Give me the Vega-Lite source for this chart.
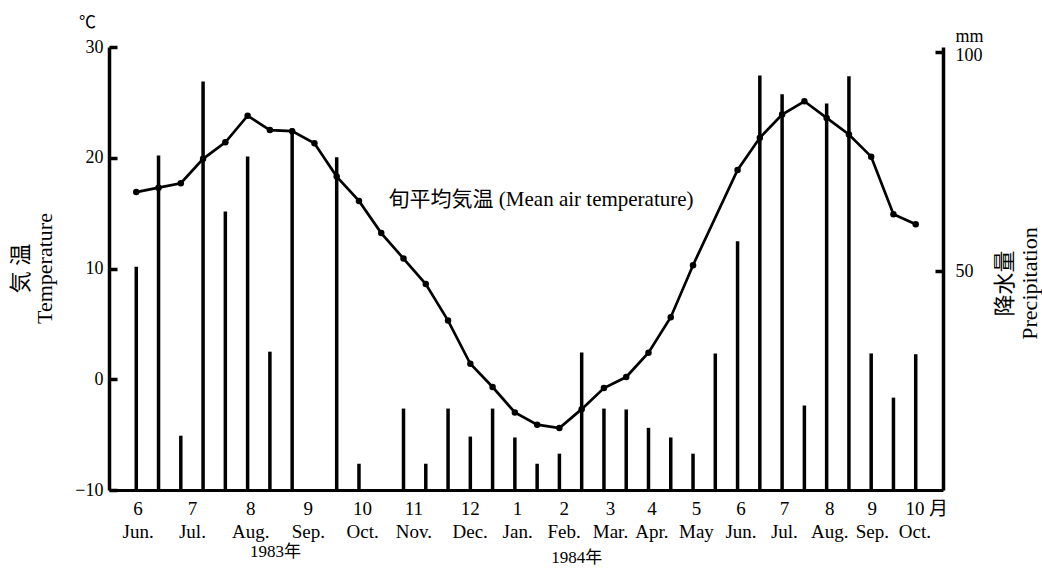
{
  "$schema": "https://vega.github.io/schema/vega-lite/v6.json",
  "width": 834,
  "height": 443,
  "autosize": {"type": "none"},
  "padding": {"left": 109, "top": 47, "right": 99, "bottom": 82},
  "background": "white",
  "config": {
    "view": {"stroke": null},
    "font": "Liberation Serif, Noto Sans CJK JP",
    "axis": {
      "grid": false,
      "labelColor": "black",
      "titleColor": "black",
      "domainColor": "black",
      "tickColor": "black",
      "labelFont": "Liberation Serif, Noto Sans CJK JP",
      "titleFont": "Liberation Serif, Noto Sans CJK JP",
      "titleFontWeight": "normal"
    }
  },
  "title": {
    "text": "℃",
    "anchor": "start",
    "frame": "group",
    "dx": -30,
    "dy": 22,
    "offset": 0,
    "baseline": "bottom",
    "fontSize": 17,
    "fontWeight": "normal",
    "font": "Liberation Serif, Noto Sans CJK JP",
    "color": "black"
  },
  "datasets": {
    "precip": [
      {"i": 1, "mm": 51.0}, {"i": 2, "mm": 76.4}, {"i": 3, "mm": 12.4},
      {"i": 4, "mm": 93.3}, {"i": 5, "mm": 63.6}, {"i": 6, "mm": 76.2},
      {"i": 7, "mm": 31.6}, {"i": 8, "mm": 82.6}, {"i": 9, "mm": 0},
      {"i": 10, "mm": 76.0}, {"i": 11, "mm": 6.0}, {"i": 12, "mm": 0},
      {"i": 13, "mm": 18.6}, {"i": 14, "mm": 6.0}, {"i": 15, "mm": 18.6},
      {"i": 16, "mm": 12.2}, {"i": 17, "mm": 18.6}, {"i": 18, "mm": 12.0},
      {"i": 19, "mm": 6.0}, {"i": 20, "mm": 8.3}, {"i": 21, "mm": 31.4},
      {"i": 22, "mm": 18.6}, {"i": 23, "mm": 18.4}, {"i": 24, "mm": 14.2},
      {"i": 25, "mm": 12.0}, {"i": 26, "mm": 8.3}, {"i": 27, "mm": 31.2},
      {"i": 28, "mm": 56.8}, {"i": 29, "mm": 94.7}, {"i": 30, "mm": 90.4},
      {"i": 31, "mm": 19.3}, {"i": 32, "mm": 88.3}, {"i": 33, "mm": 94.5},
      {"i": 34, "mm": 31.2}, {"i": 35, "mm": 21.1}, {"i": 36, "mm": 31.0}
    ],
    "temp": [
      {"i": 1, "temp": 16.9}, {"i": 2, "temp": 17.3}, {"i": 3, "temp": 17.7},
      {"i": 4, "temp": 19.9}, {"i": 5, "temp": 21.4}, {"i": 6, "temp": 23.8},
      {"i": 7, "temp": 22.5}, {"i": 8, "temp": 22.4}, {"i": 9, "temp": 21.3},
      {"i": 10, "temp": 18.3}, {"i": 11, "temp": 16.1}, {"i": 12, "temp": 13.2},
      {"i": 13, "temp": 10.9}, {"i": 14, "temp": 8.6}, {"i": 15, "temp": 5.3},
      {"i": 16, "temp": 1.4}, {"i": 17, "temp": -0.7}, {"i": 18, "temp": -3.0},
      {"i": 19, "temp": -4.1}, {"i": 20, "temp": -4.4}, {"i": 21, "temp": -2.7},
      {"i": 22, "temp": -0.8}, {"i": 23, "temp": 0.2}, {"i": 24, "temp": 2.4},
      {"i": 25, "temp": 5.6}, {"i": 26, "temp": 10.3},
      {"i": 28, "temp": 18.9}, {"i": 29, "temp": 21.8}, {"i": 30, "temp": 23.9},
      {"i": 31, "temp": 25.1}, {"i": 32, "temp": 23.6}, {"i": 33, "temp": 22.1},
      {"i": 34, "temp": 20.1}, {"i": 35, "temp": 14.9}, {"i": 36, "temp": 14.0}
    ],
    "note": [
      {"i": 12.33, "temp": 16.15, "label": "旬平均気温 (Mean air temperature)"}
    ]
  },
  "layer": [
    {
      "data": {"name": "precip"},
      "mark": {"type": "bar", "width": 3.5, "color": "black"},
      "encoding": {
        "x": {
          "field": "i",
          "type": "quantitative",
          "scale": {"domain": [0, 37], "nice": false, "zero": false},
          "axis": {
            "orient": "bottom",
            "title": null,
            "values": [1.06, 3.5, 6.12, 8.7, 11.14, 13.44, 15.97, 18.1, 20.19, 22.27, 24.13, 26.13, 28.13, 30.08, 32.12, 34.03, 35.94, 37],
            "labelExpr": "[['6','Jun.'],['7','Jul.'],['8','Aug.'],['9','Sep.'],['10','Oct.'],['11','Nov.'],['12','Dec.'],['1','Jan.'],['2','Feb.'],['3','Mar.'],['4','Apr.'],['5','May'],['6','Jun.'],['7','Jul.'],['8','Aug.'],['9','Sep.'],['10','Oct.'],['月','']][indexof([1.06, 3.5, 6.12, 8.7, 11.14, 13.44, 15.97, 18.1, 20.19, 22.27, 24.13, 26.13, 28.13, 30.08, 32.12, 34.03, 35.94, 37], datum.value)]",
            "ticks": false,
            "domainWidth": 3,
            "labelFontSize": 19,
            "labelLineHeight": 23,
            "labelBaseline": "top",
            "labelPadding": 9,
            "labelOverlap": false,
            "labelFlush": false,
            "labelBound": false
          }
        },
        "y": {
          "field": "mm",
          "type": "quantitative",
          "scale": {"domain": [0, 101.2], "nice": false},
          "axis": {
            "orient": "right",
            "values": [50, 100],
            "labelExpr": "datum.value == 100 ? ['mm', '100'] : datum.label",
            "labelAlign": "left",
            "labelBaseline": "middle",
            "labelFontSize": 18,
            "labelLineHeight": 19,
            "labelOffset": {"condition": {"test": "datum.value == 100", "value": -16}, "value": 0},
            "labelPadding": 20,
            "tickSize": -8,
            "tickWidth": 3.5,
            "domainWidth": 3.5,
            "title": ["降水量", "Precipitation"],
            "titleAngle": -90,
            "titleX": 61,
            "titleY": 236,
            "titleAlign": "center",
            "titleBaseline": "middle",
            "titleFontSize": 22,
            "titleLineHeight": 25
          }
        }
      }
    },
    {
      "encoding": {
        "x": {
          "field": "i",
          "type": "quantitative",
          "scale": {"domain": [0, 37], "nice": false, "zero": false},
          "axis": {
            "orient": "bottom",
            "title": null,
            "values": [7.23, 20.76],
            "labelExpr": "datum.value < 10 ? '1983年' : '1984年'",
            "domain": false,
            "ticks": false,
            "labelFontSize": 17,
            "labelBaseline": "top",
            "labelPadding": {"condition": {"test": "datum.value > 10", "value": 59}, "value": 53},
            "labelOverlap": false
          }
        },
        "y": {
          "field": "temp",
          "type": "quantitative",
          "scale": {"domain": [-10, 30], "nice": false, "zero": false},
          "axis": {
            "orient": "left",
            "values": [-10, 0, 10, 20, 30],
            "labelFontSize": 18,
            "labelPadding": 14,
            "tickSize": -8,
            "tickWidth": 3.5,
            "domainWidth": 3.5,
            "title": ["気 温", "Temperature"],
            "titleAngle": -90,
            "titleX": -89,
            "titleY": 221,
            "titleAlign": "center",
            "titleBaseline": "middle",
            "titleFontSize": 22,
            "titleLineHeight": 24
          }
        }
      },
      "layer": [
        {
          "data": {"name": "temp"},
          "mark": {"type": "line", "color": "black", "strokeWidth": 2.7}
        },
        {
          "data": {"name": "temp"},
          "mark": {"type": "circle", "color": "black", "size": 42, "opacity": 1}
        },
        {
          "data": {"name": "note"},
          "mark": {"type": "text", "align": "left", "baseline": "middle", "fontSize": 21, "color": "black", "font": "Liberation Serif, Noto Sans CJK JP"},
          "encoding": {"text": {"field": "label"}}
        }
      ]
    }
  ],
  "resolve": {"scale": {"y": "independent"}, "axis": {"x": "independent", "y": "independent"}}
}
